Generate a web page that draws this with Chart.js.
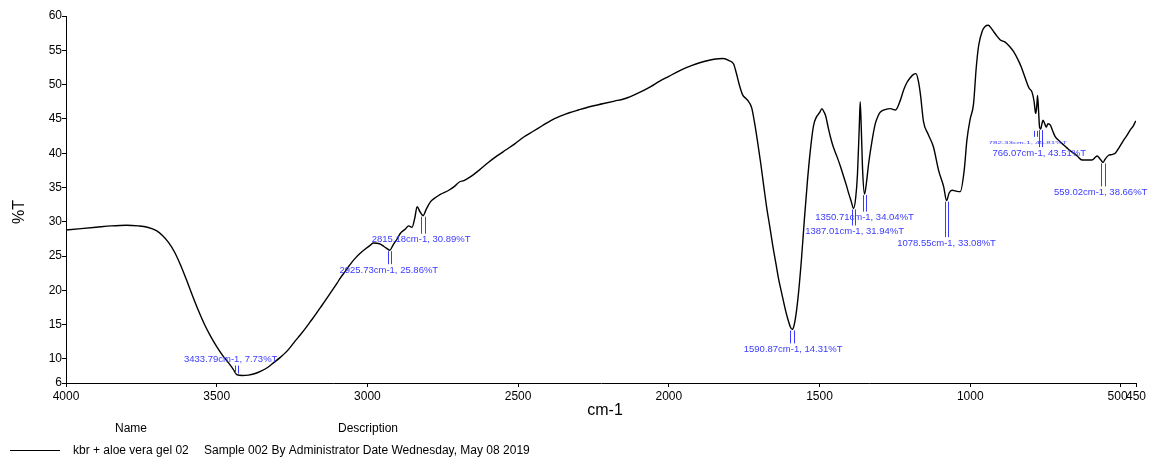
<!DOCTYPE html>
<html>
<head>
<meta charset="utf-8">
<title>FTIR - kbr + aloe vera gel 02</title>
<script src="https://cdn.jsdelivr.net/npm/chart.js@4.4.1/dist/chart.umd.min.js"></script>
<style>
    html, body { margin: 0; padding: 0; background: #ffffff; }
    #wrap { width: 1155px; height: 462px; }
</style>
</head>
<body>
<div id="wrap"><canvas id="ir-chart" width="1155" height="462"></canvas></div>
<script>
// --- DATOS DEL ESPECTRO ---
const wavenumbers = [
    4000, 3950, 3900, 3850, 3800, 3760, 3730, 3700, 3680, 3660,
    3640, 3620, 3600, 3580, 3560, 3540, 3520, 3500, 3480, 3460,
    3445, 3433.79, 3415, 3395, 3375, 3355, 3330, 3310, 3290, 3270,
    3256, 3240, 3223, 3200, 3190, 3170, 3156, 3140, 3123, 3100,
    3090, 3073, 3057, 3040, 3024, 3005, 2990, 2980, 2960, 2945,
    2935, 2925.73, 2915, 2900, 2891, 2875, 2863, 2852, 2843, 2835,
    2826, 2815.18, 2805, 2791, 2775, 2758, 2730, 2710, 2695, 2680,
    2660, 2630, 2600, 2570, 2540, 2510, 2480, 2450, 2420, 2390,
    2360, 2330, 2300, 2260, 2220, 2180, 2150, 2120, 2090, 2060,
    2030, 2000, 1970, 1940, 1910, 1880, 1850, 1820, 1800, 1785,
    1775, 1765, 1755, 1745, 1735, 1725, 1715, 1705, 1695, 1685,
    1675, 1665, 1655, 1645, 1635, 1625, 1615, 1605, 1597, 1590.87,
    1585, 1578, 1570, 1560, 1550, 1540, 1530, 1520, 1510, 1500,
    1492, 1485, 1480, 1470, 1464, 1455, 1442, 1430, 1420, 1410,
    1403, 1395, 1387.01, 1380, 1374, 1368, 1365, 1361, 1357, 1350.71,
    1344, 1337, 1325, 1315, 1305, 1298, 1280, 1265, 1248, 1232,
    1221, 1210, 1199, 1188, 1180, 1172, 1165, 1155, 1140, 1122,
    1105, 1088, 1078.55, 1070, 1060, 1050, 1040, 1033, 1020, 1011,
    1000, 989, 980, 972, 960, 950, 940, 930, 922, 910,
    900, 884, 870, 856, 840, 830, 817, 805, 795, 788,
    784, 782.33, 779, 776.6, 773, 770, 766.07, 762, 758.6, 752,
    748, 742, 734, 726, 718, 705, 690, 675, 657, 645,
    629, 612, 596, 585, 579, 570, 563, 559.02, 553, 541,
    530, 519, 505, 491, 480, 469, 460, 452, 450
];

const transmittance = [
    28.8, 29.0, 29.2, 29.4, 29.5, 29.4, 29.2, 28.7, 28.0, 27.0,
    25.6, 23.7, 21.5, 19.2, 17.0, 15.0, 13.3, 11.8, 10.5, 9.4,
    8.5, 7.73, 7.6, 7.65, 7.85, 8.2, 8.8, 9.5, 10.2, 11.0,
    11.7, 12.6, 13.5, 14.8, 15.4, 16.6, 17.5, 18.5, 19.6, 21.1,
    21.8, 22.8, 23.8, 24.7, 25.4, 26.1, 26.6, 26.9, 26.8, 26.4,
    26.1, 25.86, 26.6, 27.6, 28.3, 28.9, 29.4, 29.2, 30.5, 32.2,
    31.5, 30.89, 31.8, 32.9, 33.5, 34.0, 34.6, 35.2, 35.8, 36.0,
    36.5, 37.5, 38.6, 39.6, 40.5, 41.4, 42.4, 43.2, 44.0, 44.8,
    45.4, 45.9, 46.3, 46.8, 47.2, 47.6, 47.9, 48.4, 49.0, 49.7,
    50.5, 51.2, 51.9, 52.5, 53.0, 53.4, 53.7, 53.8, 53.5, 53.0,
    51.5, 49.8, 48.5, 48.0, 47.5, 46.6, 44.3, 41.5, 38.5, 35.2,
    32.0, 29.3, 26.5, 24.0, 21.5, 19.5, 17.5, 15.8, 14.7, 14.31,
    14.8, 16.5, 19.5, 24.5, 30.5, 36.0, 40.6, 44.0, 45.3, 45.9,
    46.5, 46.0, 45.5, 43.5, 42.4, 41.0, 39.5, 38.0, 36.6, 35.2,
    34.1, 33.0, 31.94, 33.5, 37.0, 44.0, 47.5, 43.0, 37.5, 34.04,
    35.8, 38.5, 42.0, 44.3, 45.5, 46.0, 46.4, 46.5, 46.3, 47.7,
    49.2, 50.3, 51.0, 51.5, 51.6, 50.5, 48.5, 44.6, 42.8, 40.9,
    37.5, 35.1, 33.08, 34.2, 34.6, 34.5, 34.4, 34.4, 37.5, 41.9,
    45.0, 47.2, 52.5, 55.7, 57.8, 58.5, 58.65, 58.2, 57.7, 57.0,
    56.5, 56.2, 55.6, 54.8, 53.5, 52.5, 50.9, 49.5, 48.9, 47.5,
    46.0, 45.81, 47.0, 48.4, 46.0, 43.8, 43.51, 44.3, 44.8, 44.2,
    43.8, 44.3, 44.1, 43.2, 42.4, 41.8, 41.2, 40.6, 40.0, 39.6,
    39.0, 39.0, 39.0, 39.4, 39.6, 39.2, 38.8, 38.66, 39.1, 39.7,
    39.8, 40.0, 40.9, 41.9, 42.6, 43.4, 43.9, 44.6, 44.7
];

// Picos marcados
const peakWavenumbers = [3433.79, 2925.73, 2815.18, 1590.87, 1387.01, 1350.71, 1078.55, 782.33, 766.07, 559.02];
const peakTransmittance = [7.73, 25.86, 30.89, 14.31, 31.94, 34.04, 33.08, 45.81, 43.51, 38.66];

// Ejes
const xTickValues = [4000, 3500, 3000, 2500, 2000, 1500, 1000, 500, 450];
const yTickValues = [6.5, 10, 15, 20, 25, 30, 35, 40, 45, 50, 55, 60];
const yTickLabels = ['6', '10', '15', '20', '25', '30', '35', '40', '45', '50', '55', '60'];

// Leyenda
const legendName = 'kbr + aloe vera gel 02';
const legendDescription = 'Sample 002 By Administrator Date Wednesday, May 08 2019';

// --- ESTILOS ---
const FONT = '"Liberation Sans", Arial, sans-serif';
const PEAK_BLUE = '#3b3bff';

// desplazamiento de cada etiqueta respecto a su pico (px)
const peakLabelLayout = [
    { dx: -6, dy: -15 },
    { dx: -1, dy: 20 },
    { dx: -2, dy: 24 },
    { dx: 1, dy: 20 },
    { dx: 1, dy: 23 },
    { dx: 0, dy: 23.5 },
    { dx: 0, dy: 42.5 },
    { dx: -8, dy: 29.5, tiny: true, lead: 6 },
    { dx: -1.5, dy: 24 },
    { dx: -2.5, dy: 30 }
];

Chart.defaults.font.family = FONT;
Chart.defaults.color = '#000';

/**
 * Dibuja las marcas de los picos (doble línea + texto azul).
 */
const peakLabelsPlugin = {
    id: 'peakLabels',
    afterDatasetsDraw(chart) {
        const { ctx, scales: { x, y } } = chart;
        ctx.save();
        ctx.strokeStyle = PEAK_BLUE;
        ctx.fillStyle = PEAK_BLUE;
        ctx.lineWidth = 1;
        ctx.textAlign = 'center';
        ctx.textBaseline = 'middle';

        peakWavenumbers.forEach((wn, i) => {
            const t = peakTransmittance[i];
            const lay = peakLabelLayout[i];
            const px = x.getPixelForValue(wn);
            const py = y.getPixelForValue(t);
            const ty = py + lay.dy;
            const label = `${wn.toFixed(2)}cm-1, ${t.toFixed(2)}%T`;

            // doble línea entre el pico y el texto
            let y1, y2;
            if (lay.dy > 0) {
                y2 = ty - 6;
                y1 = lay.lead ? y2 - lay.lead : py + 1;
            } else {
                y1 = ty + 6;
                y2 = py - 1;
            }
            [-1.8, 1.6].forEach(off => {
                ctx.beginPath();
                ctx.moveTo(Math.round(px + off) + 0.5, y1);
                ctx.lineTo(Math.round(px + off) + 0.5, y2);
                ctx.stroke();
            });

            if (lay.tiny) {
                ctx.save();
                ctx.translate(px + lay.dx, ty);
                ctx.scale(1, 0.5);
                ctx.font = `8px ${FONT}`;
                ctx.fillText(label, 0, 0);
                ctx.restore();
            } else {
                ctx.font = `9.5px ${FONT}`;
                ctx.fillText(label, px + lay.dx, ty);
            }
        });
        ctx.restore();
    }
};

/**
 * Títulos de ejes y leyenda inferior.
 */
const titlesPlugin = {
    id: 'titlesAndLegend',
    afterDraw(chart) {
        const { ctx, chartArea } = chart;
        ctx.save();
        ctx.fillStyle = '#000';
        ctx.textBaseline = 'middle';

        // %T
        ctx.save();
        ctx.translate(20, 212);
        ctx.rotate(-Math.PI / 2);
        ctx.textAlign = 'center';
        ctx.font = `16px ${FONT}`;
        ctx.fillText('%T', 0, 0);
        ctx.restore();

        // cm-1
        ctx.textAlign = 'center';
        ctx.font = `16px ${FONT}`;
        ctx.fillText('cm-1', (chartArea.left + chartArea.right) / 2 + 4, 411);

        // Cabecera de la leyenda
        ctx.font = `12px ${FONT}`;
        ctx.fillText('Name', 131, 429);
        ctx.fillText('Description', 368, 429);

        // Fila de la leyenda
        ctx.strokeStyle = '#000';
        ctx.lineWidth = 1;
        ctx.beginPath();
        ctx.moveTo(10, 450.5);
        ctx.lineTo(60, 450.5);
        ctx.stroke();
        ctx.textAlign = 'left';
        ctx.fillText(legendName, 73, 451);
        ctx.fillText(legendDescription, 204, 451);
        ctx.restore();
    }
};

const spectrum = wavenumbers.map((wn, i) => ({ x: wn, y: transmittance[i] }));

new Chart(document.querySelector('#ir-chart'), {
    type: 'line',
    data: {
        datasets: [{
            data: spectrum,
            borderColor: '#000',
            borderWidth: 1.4,
            pointRadius: 0,
            cubicInterpolationMode: 'monotone',
            fill: false
        }]
    },
    options: {
        responsive: false,
        animation: false,
        events: [],
        layout: { padding: { top: 16, right: 19, bottom: 0, left: 0 } },
        plugins: {
            legend: { display: false },
            tooltip: { enabled: false }
        },
        scales: {
            x: {
                type: 'linear',
                position: 'bottom',
                reverse: true,
                min: 450,
                max: 4000,
                afterBuildTicks: (scale) => {
                    scale.ticks = xTickValues.map(v => ({ value: v }));
                },
                afterFit: (scale) => { scale.height = 79; },
                ticks: {
                    autoSkip: false,
                    maxRotation: 0,
                    padding: 2,
                    font: { size: 12 },
                    color: '#000',
                    // separa un poco "500" de "450"
                    callback: (v) => (v === 500 ? '500  ' : String(v))
                },
                grid: { drawOnChartArea: false, drawTicks: true, tickLength: 4, color: '#000' },
                border: { display: true, color: '#000', width: 1 }
            },
            y: {
                type: 'linear',
                min: 6.5,
                max: 60,
                afterBuildTicks: (scale) => {
                    scale.ticks = yTickValues.map(v => ({ value: v }));
                },
                afterFit: (scale) => { scale.width = 66; },
                ticks: {
                    autoSkip: false,
                    padding: 0,
                    font: { size: 12 },
                    color: '#000',
                    callback: (v) => yTickLabels[yTickValues.indexOf(v)]
                },
                grid: { drawOnChartArea: false, drawTicks: true, tickLength: 4, color: '#000' },
                border: { display: true, color: '#000', width: 1 }
            }
        }
    },
    plugins: [peakLabelsPlugin, titlesPlugin]
});
</script>
</body>
</html>
